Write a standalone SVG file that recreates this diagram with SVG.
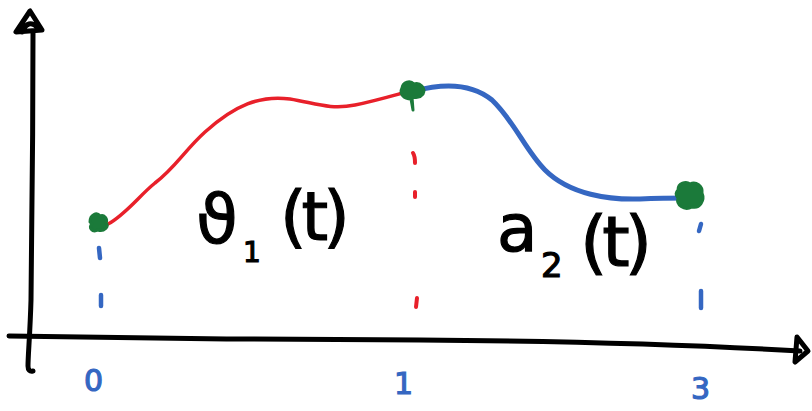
<svg xmlns="http://www.w3.org/2000/svg" width="812" height="411" viewBox="0 0 812 411">
<style>
.ax{fill:none;stroke:#000;stroke-width:5;stroke-linecap:round;stroke-linejoin:round}
.red{fill:none;stroke:#e8202a;stroke-width:3.5;stroke-linecap:round}
.blue{fill:none;stroke:#3567c2;stroke-width:5;stroke-linecap:round}
.dr{fill:none;stroke:#e8202a;stroke-width:4;stroke-linecap:round}
.db{fill:none;stroke:#3567c2;stroke-width:4.5;stroke-linecap:round}
.pt{fill:#1b7a3a;stroke:#1b7a3a;stroke-width:3;stroke-linejoin:round}
.lbl{font-family:"DejaVu Sans",sans-serif;fill:#000;stroke:#000;stroke-width:1.2}
.num{font-family:"DejaVu Sans",sans-serif;fill:#3567c2;stroke:#3567c2;stroke-width:1.2}
</style>
<rect width="812" height="411" fill="#fff"/>
<g id="connectors">
  <path id="y-axis" class="ax" d="M33,32 C33,120 32,220 31,300 C30,335 28,355 28,366 Q28,372 33,371"/>
  <path id="y-arrow" class="ax" fill="#000" d="M30,11 L16,32 L42,30 Z M22,32 Q28,18 38,28"/>
  <path id="x-axis" class="ax" d="M9,336 C120,338 300,340 420,340 C560,341 680,344 800,351"/>
  <path id="x-arrow" class="ax" d="M797,337 L808,351 L795,362 Z" fill="#000"/>
  <path id="curve-1" class="red" d="M108,224 C125,215 140,195 155,183 C175,168 185,150 205,132 C235,105 260,95 290,99 C315,103 330,110 355,105 C375,101 395,95 410,91"/>
  <path id="curve-2" class="blue" d="M414,91 C440,84 470,82 492,100 C515,122 525,150 545,170 C570,195 610,200 640,199 C660,198 680,198 692,198"/>
  <path class="db" d="M99,248 L100,258"/>
  <path class="db" d="M101,295 L101,306"/>
  <path class="dr" d="M413,153 Q415,156 415,163"/>
  <path class="dr" d="M415,192 L415,197"/>
  <path class="dr" d="M417,298 L416,307"/>
  <path class="db" d="M701,224 L699,231"/>
  <path class="db" d="M701,291 L701,308"/>
</g>
<g id="p0"><path class="pt" d="M90,222 C90,214 97,212 100,216 C104,214 108,219 106,223 C110,226 104,232 98,230 C92,233 88,227 92,224 Z"/></g>
<g id="p1"><path class="pt" d="M402,88 C403,82 410,80 414,84 C420,82 426,88 423,94 C420,98 414,98 412,97 L413,110 L411,99 C404,99 399,94 402,88 Z"/></g>
<g id="p2"><path class="pt" d="M678,190 C678,183 686,181 690,184 C696,181 703,186 702,193 C705,200 700,209 692,207 C684,211 676,205 678,198 C675,195 676,192 678,190 Z"/></g>
<g id="label-1">
  <text class="lbl" x="196" y="243" font-size="68">ϑ</text>
  <text class="lbl" x="243" y="262" font-size="28">1</text>
  <text class="lbl" x="280" y="240" font-size="68" letter-spacing="-5">(t)</text>
</g>
<g id="label-2">
  <text class="lbl" x="497" y="251" font-size="66">a</text>
  <text class="lbl" x="541" y="277" font-size="34">2</text>
  <text class="lbl" x="580" y="266" font-size="70" letter-spacing="-5">(t)</text>
</g>
<g id="ticks">
  <text class="num" x="84" y="391" font-size="30">0</text>
  <text class="num" x="394" y="394" font-size="30">1</text>
  <text class="num" x="691" y="399" font-size="30">3</text>
</g>
</svg>
